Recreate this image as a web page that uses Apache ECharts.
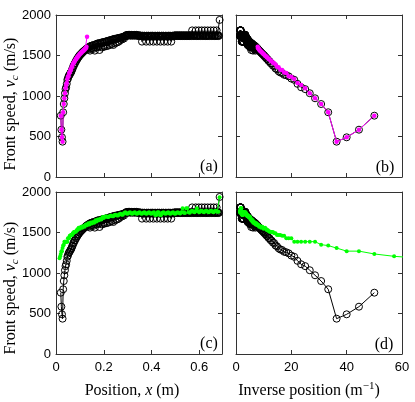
<!DOCTYPE html>
<html>
<head>
<meta charset="utf-8">
<script src="https://cdn.jsdelivr.net/npm/echarts@6/dist/echarts.min.js"></script>
<style>
html,body{margin:0;padding:0;background:#fff;}
#chart{width:415px;height:402px;}
</style>
</head>
<body>
<div id="chart"></div>
<script>
// ---- Data (position x in m, front speed v in m/s) ----
const blackX = [
0.0200,0.0225,0.0250,0.0275,0.0300,0.0325,0.0350,0.0375,0.0400,0.0425,
0.0450,0.0475,0.0500,0.0525,0.0550,0.0575,0.0600,0.0625,0.0650,0.0675,
0.0700,0.0725,0.0750,0.0775,0.0800,0.0825,0.0850,0.0875,0.0900,0.0925,
0.0950,0.0975,0.1000,0.1025,0.1050,0.1075,0.1100,0.1125,0.1150,0.1175,
0.1200,0.1225,0.1250,0.1275,0.1300,
0.1325,0.1350,0.1375,0.1400,0.1425,0.1450,0.1475,0.1500,0.1525,0.1550,
0.1575,0.1600,0.1625,0.1650,0.1675,0.1700,0.1725,0.1750,0.1775,0.1800,
0.1825,0.1850,0.1875,0.1900,0.1925,0.1950,0.1975,0.2000,0.2025,0.2050,
0.2075,0.2100,0.2125,0.2150,0.2175,0.2200,0.2225,0.2250,0.2275,0.2300,
0.2325,0.2350,0.2375,0.2400,0.2425,0.2450,0.2475,0.2500,0.2525,0.2550,
0.2575,0.2600,0.2625,0.2650,0.2675,0.2700,0.2725,0.2750,0.2775,0.2800,
0.2825,0.2850,0.2875,0.2900,0.2925,0.2950,0.2975,0.3000,0.3025,0.3050,
0.3075,0.3100,0.3125,0.3150,0.3175,0.3200,0.3225,0.3250,0.3275,0.3300,
0.3325,0.3350,0.3375,0.3400,0.3425,0.3450,0.3475,0.3500,0.3525,0.3550,
0.3575,0.3600,0.3625,0.3650,0.3675,0.3700,0.3725,0.3750,0.3775,0.3800,
0.3825,0.3850,0.3875,0.3900,0.3925,0.3950,0.3975,0.4000,0.4025,0.4050,
0.4075,0.4100,0.4125,0.4150,0.4175,0.4200,0.4225,0.4250,0.4275,0.4300,
0.4325,0.4350,0.4375,0.4400,0.4425,0.4450,0.4475,0.4500,0.4525,0.4550,
0.4575,0.4600,0.4625,0.4650,0.4675,0.4700,0.4725,0.4750,0.4775,0.4800,
0.4825,0.4850,0.4875,0.4900,0.4925,0.4950,0.4975,0.5000,0.5025,0.5050,
0.5075,0.5100,0.5125,0.5150,0.5175,0.5200,0.5225,0.5250,0.5275,0.5300,
0.5325,0.5350,0.5375,0.5400,0.5425,0.5450,0.5475,0.5500,0.5525,0.5550,
0.5575,0.5600,0.5625,0.5650,0.5675,0.5700,0.5725,0.5750,0.5775,0.5800,
0.5825,0.5850,0.5875,0.5900,0.5925,0.5950,0.5975,0.6000,0.6025,0.6050,
0.6075,0.6100,0.6125,0.6150,0.6175,0.6200,0.6225,0.6250,0.6275,0.6300,
0.6325,0.6350,0.6375,0.6400,0.6425,0.6450,0.6475,0.6500,0.6525,0.6550,
0.6575,0.6600,0.6625,0.6650,0.6675,0.6700,0.6725,0.6750,0.6775,0.6800,
0.6825,0.6850];
const blackV = [
757,584,490,436,799,901,972,1034,1085,1108,
1150,1200,1215,1243,1256,1262,1284,1290,1305,1330,
1340,1370,1375,1400,1405,1430,1432,1455,1458,1478,
1480,1500,1500,1515,1518,1530,1532,1545,1546,1558,
1560,1570,1572,1585,1588,
1590,1600,1575,1610,1560,1615,1620,1590,1625,1580,
1630,1600,1560,1635,1640,1600,1645,1650,1610,1650,
1568,1655,1650,1600,1660,1665,1605,1665,1610,1670,
1670,1615,1675,1680,1620,1680,1685,1630,1690,1690,
1640,1695,1700,1630,1700,1705,1650,1705,1710,1660,
1710,1715,1670,1715,1720,1690,1720,1725,1700,1730,
1730,1710,1735,1740,1750,1740,1755,1745,1755,1750,
1755,1745,1750,1755,1745,1750,1755,1745,1750,1755,
1745,1750,1755,1745,1750,1740,1745,1750,1740,1745,
1740,1671,1745,1735,1740,1745,1735,1740,1671,1745,
1735,1740,1745,1735,1671,1740,1745,1735,1740,1745,
1671,1735,1740,1745,1735,1740,1671,1745,1735,1740,
1745,1735,1671,1740,1745,1735,1740,1745,1671,1735,
1740,1745,1735,1740,1671,1745,1735,1740,1745,1735,
1671,1740,1745,1735,1740,1745,1750,1740,1745,1750,
1740,1745,1750,1740,1745,1750,1740,1745,1750,1740,
1745,1750,1740,1745,1750,1740,1745,1750,1740,1745,
1750,1740,1745,1750,1740,1810,1745,1750,1740,1745,
1750,1810,1740,1745,1750,1740,1810,1745,1750,1740,
1745,1810,1750,1740,1745,1750,1810,1740,1745,1750,
1740,1810,1745,1750,1740,1745,1810,1750,1740,1745,
1750,1810,1740,1745,1750,1740,1810,1745,1750,1740,
1745,1939];

const magentaX = [
0.0200,0.0225,0.0250,0.0275,0.0300,0.0325,0.0350,0.0375,0.0400,0.0425,
0.0450,0.0475,0.0500,0.0525,0.0550,0.0575,0.0600,0.0625,0.0650,0.0675,
0.0700,0.0725,0.0750,0.0775,0.0800,0.0825,0.0850,0.0875,0.0900,0.0925,
0.0950,0.0975,0.1000,0.1025,0.1050,0.1075,0.1100,0.1125,0.1150,0.1175,
0.1200,0.1225,0.1250,0.1275,0.1300];
const magentaV = [
757,584,490,436,799,901,972,1034,1095,1136,
1160,1210,1239,1245,1285,1290,1321,1325,1355,1360,
1390,1404,1410,1430,1435,1455,1458,1475,1478,1495,
1498,1512,1515,1528,1530,1542,1545,1556,1560,1570,
1575,1585,1590,1609,1733];

const greenX = [
0.0150,0.0175,0.0200,0.0225,0.0250,0.0275,0.0300,0.0325,0.0350,0.0375,
0.0400,0.0425,0.0450,0.0475,0.0500,0.0525,0.0550,0.0575,0.0600,0.0625,
0.0650,0.0675,0.0700,0.0725,0.0750,0.0775,0.0800,0.0825,0.0850,0.0875,
0.0900,0.0925,0.0950,
0.100,0.105,0.110,0.115,0.120,0.125,0.130,0.135,0.140,0.145,
0.150,0.155,0.160,0.165,0.170,0.175,0.180,0.185,0.190,0.195,
0.200,0.205,0.210,0.215,0.220,0.225,0.230,0.235,0.240,0.245,
0.250,0.255,0.260,0.265,0.270,0.275,0.280,0.285,0.290,0.295,
0.300,0.305,0.310,0.315,0.320,0.325,0.330,0.335,0.340,0.345,
0.350,0.355,0.360,0.365,0.370,0.375,0.380,0.385,0.390,0.395,
0.400,0.405,0.410,0.415,0.420,0.425,0.430,0.435,0.440,0.445,
0.450,0.455,0.460,0.465,0.470,0.475,0.480,0.485,0.490,0.495,
0.500,0.505,0.510,0.515,0.520,0.525,0.530,0.535,0.540,0.545,
0.550,0.555,0.560,0.565,0.570,0.575,0.580,0.585,0.590,0.595,
0.600,0.605,0.610,0.615,0.620,0.625,0.630,0.635,0.640,0.645,
0.650,0.655,0.660,0.665,0.670,0.675,0.680,0.685];
const greenV = [
1182,1206,1235,1270,1270,1308,1338,1350,1387,1387,
1387,1387,1387,1387,1429,1429,1429,1461,1461,1470,
1470,1470,1490,1490,1505,1505,1510,1510,1520,1530,
1530,1545,1560,
1545,1570,1560,1580,1570,1600,1590,1614,1600,1625,
1610,1630,1620,1650,1635,1660,1650,1670,1660,1690,
1680,1695,1700,1690,1690,1705,1710,1700,1700,1715,
1720,1710,1710,1725,1730,1720,1720,1740,1750,1735,
1730,1745,1750,1735,1730,1745,1750,1735,1730,1745,
1750,1735,1730,1745,1750,1735,1730,1745,1750,1735,
1730,1745,1750,1717,1717,1750,1750,1717,1717,1745,
1750,1735,1730,1745,1750,1735,1730,1745,1750,1735,
1730,1745,1750,1740,1735,1750,1800,1745,1740,1800,
1800,1750,1745,1760,1770,1755,1750,1765,1800,1760,
1750,1765,1770,1755,1750,1765,1770,1755,1750,1765,
1770,1755,1750,1765,1770,1755,1755,1935];

const speedTicks = [0, 500, 1000, 1500, 2000];
const posTicks = [0, 0.2, 0.4, 0.6];
const invTicks = [0, 20, 40, 60];
const panelLabels = ['(a)', '(b)', '(c)', '(d)'];

// ---- helpers ----
const pair = (xs, vs) => xs.map((x, i) => [x, vs[i]]);
const invPair = (xs, vs) => xs.slice(0, -1).map((x, i) => [1 / x, vs[i]]);

const SANS = '"Liberation Sans", Arial, sans-serif';
const SERIF = '"Liberation Serif", "Times New Roman", serif';
const FRAME = '#333';

const grids = [
  {left: 56, top: 15, width: 166, height: 162},
  {left: 236, top: 15, width: 166, height: 162},
  {left: 56, top: 192, width: 166, height: 162},
  {left: 236, top: 192, width: 166, height: 162}
];

const xRanges = [
  {min: 0, max: 0.695, interval: 0.2, labels: false, isPos: true},
  {min: 0, max: 60, interval: 20, labels: false, isPos: false},
  {min: 0, max: 0.695, interval: 0.2, labels: true, isPos: true},
  {min: 0, max: 60, interval: 20, labels: true, isPos: false}
];

const xAxes = [], yAxes = [];
grids.forEach((g, i) => {
  const r = xRanges[i];
  ['bottom', 'top'].forEach(pos => {
    xAxes.push({
      type: 'value', gridIndex: i, position: pos,
      min: r.min, max: r.max, interval: r.interval,
      axisLine: {show: true, onZero: false, lineStyle: {color: FRAME, width: 1}},
      axisTick: {show: true, inside: true, length: 4, lineStyle: {color: FRAME}},
      splitLine: {show: false},
      axisLabel: {
        show: pos === 'bottom' && r.labels,
        color: '#000', fontFamily: SANS, fontSize: 13, margin: 7,
        showMaxLabel: !r.isPos,
        formatter: v => {
          const arr = r.isPos ? posTicks : invTicks;
          const m = arr.find(t => Math.abs(t - v) < 1e-9);
          return m === undefined ? '' : String(m);
        }
      }
    });
  });
  ['left', 'right'].forEach(pos => {
    yAxes.push({
      type: 'value', gridIndex: i, position: pos,
      min: 0, max: 2000, interval: 500,
      axisLine: {show: true, onZero: false, lineStyle: {color: FRAME, width: 1}},
      axisTick: {show: true, inside: true, length: 4, lineStyle: {color: FRAME}},
      splitLine: {show: false},
      axisLabel: {
        show: pos === 'left' && (i === 0 || i === 2),
        color: '#000', fontFamily: SANS, fontSize: 13, margin: 5,
        formatter: v => {
          const m = speedTicks.find(t => Math.abs(t - v) < 1e-9);
          return m === undefined ? '' : String(m);
        }
      }
    });
  });
});

function blackSeries(data, gi) {
  return {
    type: 'line', data, xAxisIndex: 2 * gi, yAxisIndex: 2 * gi,
    symbol: 'circle', symbolSize: 7, showAllSymbol: true,
    itemStyle: {color: 'rgba(0,0,0,0)', borderColor: '#000', borderWidth: 1},
    lineStyle: {color: '#000', width: 1},
    silent: true, z: 2, animation: false
  };
}
function dotSeries(data, gi, color, size) {
  return {
    type: 'line', data, xAxisIndex: 2 * gi, yAxisIndex: 2 * gi,
    symbol: 'circle', symbolSize: size, showAllSymbol: true,
    itemStyle: {color: color, borderWidth: 0},
    lineStyle: {color: color, width: 1},
    silent: true, z: 3, animation: false
  };
}

const series = [
  blackSeries(pair(blackX, blackV), 0),
  dotSeries(pair(magentaX, magentaV), 0, '#ff00ff', 4.5),
  blackSeries(invPair(blackX, blackV), 1),
  dotSeries(invPair(magentaX, magentaV), 1, '#ff00ff', 4.5),
  blackSeries(pair(blackX, blackV), 2),
  dotSeries(pair(greenX, greenV), 2, '#00ff00', 4),
  blackSeries(invPair(blackX, blackV), 3),
  dotSeries(invPair(greenX, greenV), 3, '#00ff00', 4)
];

const richBase = {
  n: {fontFamily: SERIF, fontSize: 16, lineHeight: 20, fill: '#000'},
  i: {fontFamily: SERIF, fontSize: 16, lineHeight: 20, fontStyle: 'italic', fill: '#000'},
  sub: {fontFamily: SERIF, fontSize: 11, lineHeight: 11, fontStyle: 'italic', verticalAlign: 'bottom', fill: '#000'},
  sup: {fontFamily: SERIF, fontSize: 11, lineHeight: 11, verticalAlign: 'top', fill: '#000'}
};

function textEl(text, x, y, rot) {
  return {
    type: 'text', x, y, rotation: rot || 0, silent: true, z: 10,
    style: {
      text, fill: '#000', fontFamily: SERIF, fontSize: 16, lineHeight: 20,
      textAlign: 'center', textVerticalAlign: 'middle',
      align: 'center', verticalAlign: 'middle',
      rich: richBase
    }
  };
}

const yTitle = '{n|Front speed, }{i|v}{sub|c}{n| (m/s)}';
const graphic = [
  textEl(yTitle, 11, 104, Math.PI / 2),
  textEl(yTitle, 11, 288, Math.PI / 2),
  textEl('{n|Position, }{i|x}{n| (m)}', 132, 391),
  textEl('{n|Inverse position (m}{sup|\u22121}{n|)}', 309, 391),
  textEl('{n|' + panelLabels[0] + '}', 209, 167),
  textEl('{n|' + panelLabels[1] + '}', 385, 168),
  textEl('{n|' + panelLabels[2] + '}', 209, 344),
  textEl('{n|' + panelLabels[3] + '}', 384, 345)
];

const chart = echarts.init(document.getElementById('chart'), null, {renderer: 'canvas'});
chart.setOption({
  backgroundColor: '#fff',
  animation: false,
  grid: grids.map(g => Object.assign({containLabel: false}, g)),
  xAxis: xAxes,
  yAxis: yAxes,
  series,
  graphic
});
</script>
</body>
</html>
